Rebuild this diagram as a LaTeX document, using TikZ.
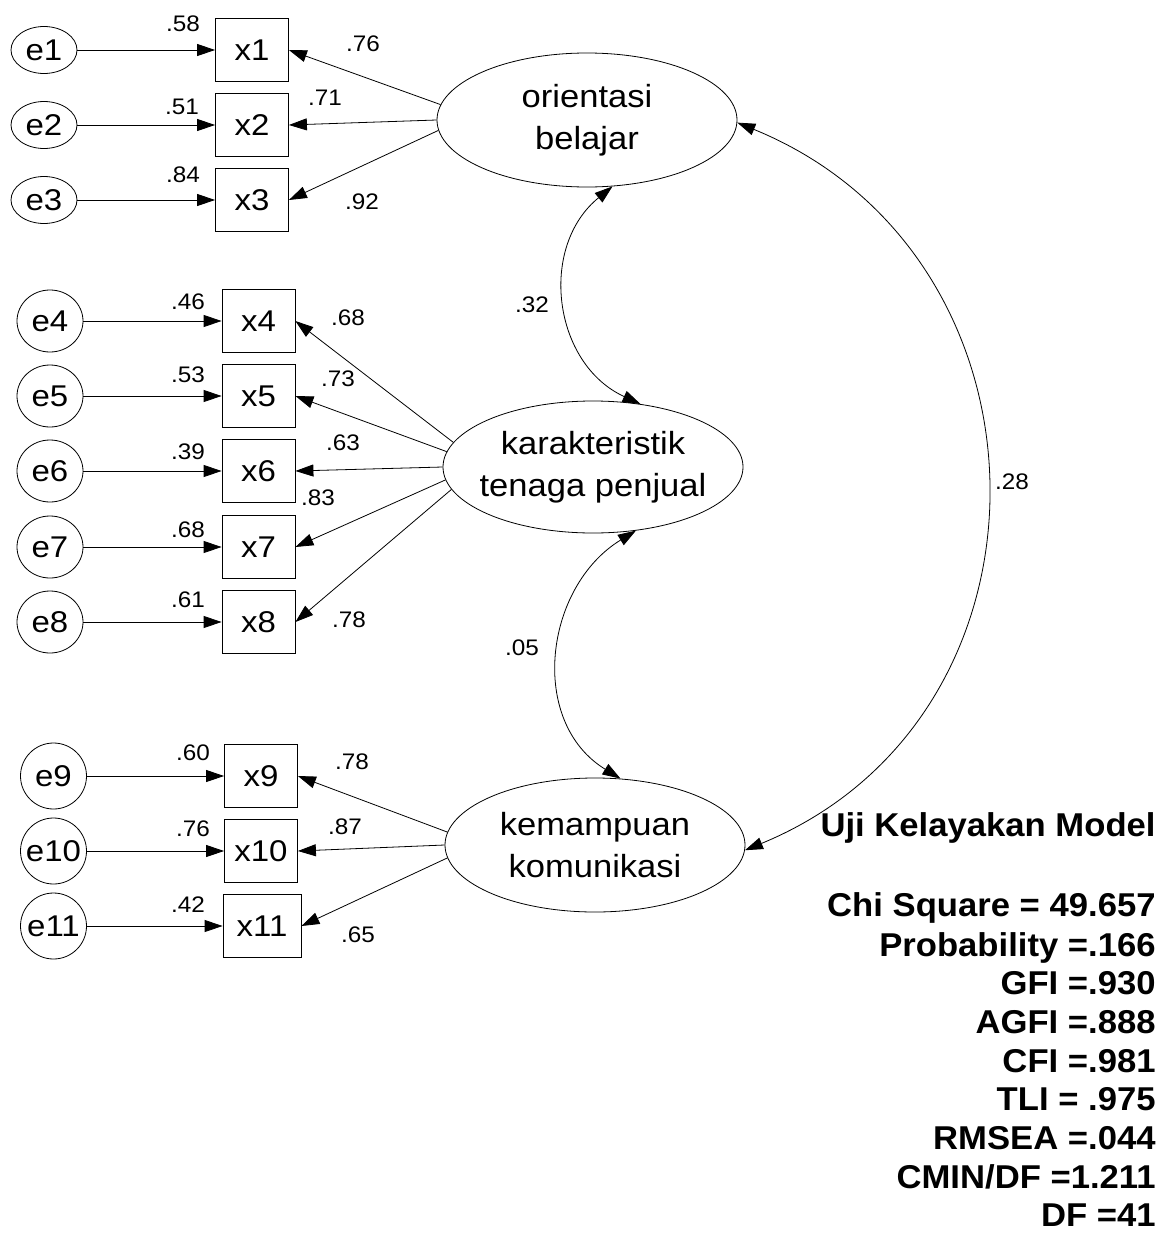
\documentclass[tikz,border=0pt]{standalone}
\usepackage{fontspec}
\usepackage{graphicx}
\setmainfont{Liberation Sans}
\usetikzlibrary{shapes.geometric,arrows.meta}

% horizontally widened text
\newcommand\wideN[1]{\scalebox{1.1}[1]{#1}}
\newcommand\wideL[1]{\scalebox{1.08}[1]{#1}}
\newcommand\wideE[1]{\scalebox{1.08}[1]{#1}}
\newcommand\wideS[1]{\scalebox{1.05}[1]{#1}}

\begin{document}
\begin{tikzpicture}[x=1pt,y=-1pt,line width=0.8pt,
  >={Triangle[length=18pt,width=12pt]},
  obs/.style={draw,rectangle,minimum width=73pt,minimum height=63pt,inner sep=0pt,
    font=\fontsize{30}{34}\selectfont},
  err/.style={draw,ellipse,minimum width=66pt,minimum height=#1,inner sep=0pt},
  etext/.style={inner sep=0pt,font=\fontsize{30}{34}\selectfont},
  latent/.style={draw,ellipse,minimum width=300pt,minimum height=134pt,inner sep=0pt},
  ltext/.style={align=center,inner sep=0pt,font=\fontsize{32}{42}\selectfont},
  lab/.style={inner sep=0pt,font=\fontsize{22.5}{26}\selectfont},
  stat/.style={anchor=base east,inner sep=0pt,font=\bfseries\fontsize{33}{38}\selectfont}]
\useasboundingbox (0,0) rectangle (1172,1258);

% latent variables
\node[latent,label={[ltext]center:{\wideE{orientasi}\\\wideE{belajar}}}] (orient) at (587,120) {};
\node[latent,minimum height=132pt,label={[ltext]center:{\wideE{karakteristik}\\\wideE{tenaga penjual}}}] (karak) at (593,467) {};
\node[latent,label={[ltext]center:{\wideE{kemampuan}\\\wideE{komunikasi}}}] (kemamp) at (595,845) {};

% indicators
\node[obs] (x1) at (252,50) {\wideN{x1}};
\node[obs] (x2) at (252,125) {\wideN{x2}};
\node[obs] (x3) at (252,200) {\wideN{x3}};
\node[obs] (x4) at (258.5,321) {\wideN{x4}};
\node[obs] (x5) at (258.5,396) {\wideN{x5}};
\node[obs] (x6) at (258.5,471) {\wideN{x6}};
\node[obs] (x7) at (258.5,547) {\wideN{x7}};
\node[obs] (x8) at (258.5,622) {\wideN{x8}};
\node[obs] (x9) at (261,776) {\wideN{x9}};
\node[obs] (x10) at (261,851) {\wideN{x10}};
\node[obs,minimum width=78pt] (x11) at (262,926) {\wideN{x11}};

% error terms
\node[err=47pt,label={[etext]center:\wideN{e1}}] (e1) at (44,50) {};
\node[err=47pt,label={[etext]center:\wideN{e2}}] (e2) at (44,125) {};
\node[err=47pt,label={[etext]center:\wideN{e3}}] (e3) at (44,200) {};
\node[err=62pt,label={[etext]center:\wideN{e4}}] (e4) at (50,321) {};
\node[err=62pt,label={[etext]center:\wideN{e5}}] (e5) at (50,396) {};
\node[err=62pt,label={[etext]center:\wideN{e6}}] (e6) at (50,471) {};
\node[err=62pt,label={[etext]center:\wideN{e7}}] (e7) at (50,547) {};
\node[err=62pt,label={[etext]center:\wideN{e8}}] (e8) at (50,622) {};
\node[err=66pt,label={[etext]center:\wideN{e9}}] (e9) at (53.5,776) {};
\node[err=66pt,label={[etext]center:\wideN{e10}}] (e10) at (53.5,851) {};
\node[err=66pt,label={[etext]center:\wideN{e11}}] (e11) at (53.5,926) {};

% error paths
\foreach \i in {1,...,11}
  \draw[->] (e\i.east) -- (x\i.west);

% loadings
\draw[->] (orient.174.6) -- (x1.east);
\draw[->] (orient.180) -- (x2.east);
\draw[->] (orient.184.6) -- (x3.east);
\draw[->] (karak.170.3) -- (x4.east);
\draw[->] (karak.174.6) -- (x5.east);
\draw[->] (karak.180) -- (x6.east);
\draw[->] (karak.185) -- (x7.east);
\draw[->] (karak.189.3) -- (x8.east);
\draw[->] (kemamp.175.4) -- (x9.east);
\draw[->] (kemamp.180) -- (x10.east);
\draw[->] (kemamp.185) -- (x11.east);

% covariances
\draw[<->] (orient.-69) .. controls (538,247) and (553,364) .. (karak.53);
\draw[<->] (karak.-56) .. controls (544,587) and (528,722) .. (kemamp.69);
\draw[<->] (orient.-1) .. controls (1064,256) and (1071,716) .. (kemamp.-2);

% squared multiple correlations
\node[lab] (r1) at (183,24) {\wideL{.58}};
\node[lab] (r2) at (182,107) {\wideL{.51}};
\node[lab] (r3) at (183,175) {\wideL{.84}};
\node[lab] (r4) at (188,302) {\wideL{.46}};
\node[lab] (r5) at (188,375) {\wideL{.53}};
\node[lab] (r6) at (188,452) {\wideL{.39}};
\node[lab] (r7) at (188,530) {\wideL{.68}};
\node[lab] (r8) at (188,600) {\wideL{.61}};
\node[lab] (r9) at (193,753) {\wideL{.60}};
\node[lab] (r10) at (193,829) {\wideL{.76}};
\node[lab] (r11) at (188,905) {\wideL{.42}};

% standardized loadings
\node[lab] (w1) at (363,44) {\wideL{.76}};
\node[lab] (w2) at (325,98) {\wideL{.71}};
\node[lab] (w3) at (362,202) {\wideL{.92}};
\node[lab] (w4) at (348,318) {\wideL{.68}};
\node[lab] (w5) at (338,379) {\wideL{.73}};
\node[lab] (w6) at (343,443) {\wideL{.63}};
\node[lab] (w7) at (318,498) {\wideL{.83}};
\node[lab] (w8) at (349,620) {\wideL{.78}};
\node[lab] (w9) at (352,762) {\wideL{.78}};
\node[lab] (w10) at (345,827) {\wideL{.87}};
\node[lab] (w11) at (358,935) {\wideL{.65}};

% correlations
\node[lab] (c1) at (532,305) {\wideL{.32}};
\node[lab] (c2) at (522,648) {\wideL{.05}};
\node[lab] (c3) at (1012,482) {\wideL{.28}};

% fit summary
\node[stat] (s0) at (1156,836) {\wideS{Uji Kelayakan Model}};
\node[stat] (s1) at (1156,916) {\wideS{Chi Square = 49.657}};
\node[stat] (s2) at (1156,956) {\wideS{Probability =.166}};
\node[stat] (s3) at (1156,994) {\wideS{GFI =.930}};
\node[stat] (s4) at (1156,1033) {\wideS{AGFI =.888}};
\node[stat] (s5) at (1156,1072) {\wideS{CFI =.981}};
\node[stat] (s6) at (1156,1110) {\wideS{TLI = .975}};
\node[stat] (s7) at (1156,1149) {\wideS{RMSEA =.044}};
\node[stat] (s8) at (1156,1188) {\wideS{CMIN/DF =1.211}};
\node[stat] (s9) at (1156,1226) {\wideS{DF =41}};
\end{tikzpicture}
\end{document}
